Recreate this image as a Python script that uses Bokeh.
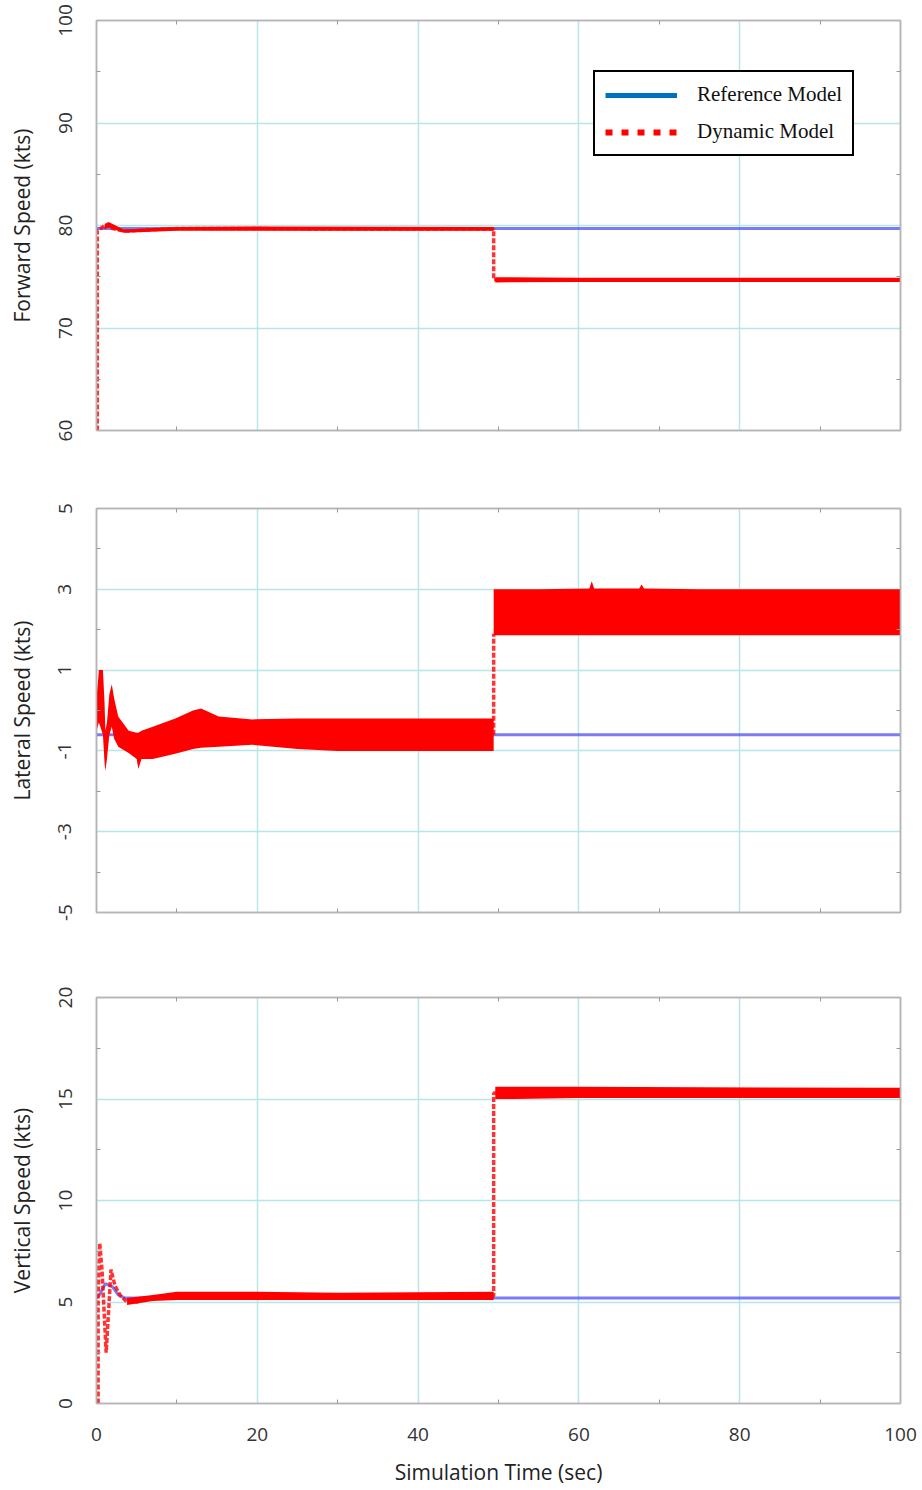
from bokeh.plotting import figure
from bokeh.layouts import column
from bokeh.models import (Range1d, FixedTicker, Legend, LegendItem, LinearAxis,
                          CustomJSTickFormatter)
from bokeh.embed import file_html
from bokeh.resources import INLINE

# ---------------- data ----------------
X_TICKS = [0, 20, 40, 60, 80, 100]
X_MINOR = [10, 30, 50, 70, 90]

# Forward speed
FWD_REF_T = [0, 100]
FWD_REF = [79.7, 79.7]
FWD_DYN_T = [0.1, 0.1, 0.5, 1.0, 1.4, 2.0, 3.4, 5.0, 7.0, 10.0, 20.0, 30.0, 40.0,
             49.4, 49.4, 50.0, 60.0, 70.0, 80.0, 90.0, 100.0]
FWD_DYN = [60.0, 79.5, 79.7, 80.0, 80.1, 79.7, 79.45, 79.5, 79.6, 79.7, 79.7, 79.65, 79.65,
           79.65, 74.7, 74.7, 74.7, 74.7, 74.7, 74.7, 74.7]
# noise envelope of the dynamic model in its steady parts
FWD_NOISE1_T = [1.0, 1.5, 3.4, 10.0, 20.0, 49.4]
FWD_NOISE1_LO = [79.6, 79.8, 79.3, 79.5, 79.5, 79.5]
FWD_NOISE1_HI = [80.1, 80.35, 79.6, 79.85, 79.9, 79.85]
FWD_NOISE2_T = [49.6, 60.0, 100.0]
FWD_NOISE2_LO = [74.45, 74.5, 74.5]
FWD_NOISE2_HI = [74.95, 74.9, 74.9]
FWD_TICKS = [60, 70, 80, 90, 100]
FWD_MINOR = [65, 75, 85, 95]

# Lateral speed (dense oscillation -> envelope)
LAT_REF_T = [0, 100]
LAT_REF = [-0.6, -0.6]
LAT_BAND1_T = [0.0, 0.3, 0.8, 1.0, 1.1, 1.3, 1.6, 1.9, 2.2, 2.7, 4.0, 5.0, 5.2, 5.6, 7.0,
               9.8, 12.0, 13.0, 15.2, 19.4, 25.0, 30.0, 35.0, 40.0, 45.0, 49.4]
LAT_BAND1_HI = [0.3, 1.0, 1.0, 0.2, -0.5, -0.3, 0.4, 0.65, 0.3, -0.15, -0.5, -0.55, -0.55,
                -0.5, -0.4, -0.2, 0.0, 0.05, -0.15, -0.22, -0.2, -0.2, -0.2, -0.2, -0.2, -0.2]
LAT_BAND1_LO = [-0.5, -0.3, -0.6, -1.3, -1.5, -1.2, -0.6, -0.4, -0.7, -0.9, -1.05, -1.2,
                -1.45, -1.2, -1.2, -1.07, -0.95, -0.92, -0.9, -0.85, -0.95, -1.0, -1.0,
                -1.0, -1.0, -1.0]
LAT_BAND2_T = [49.4, 55.0, 61.3, 61.6, 61.9, 67.5, 67.8, 68.1, 75.0, 85.0, 95.0, 100.0]
LAT_BAND2_HI = [3.0, 3.0, 3.02, 3.2, 3.02, 3.02, 3.12, 3.02, 3.0, 3.0, 3.0, 3.0]
LAT_BAND2_LO = [1.86, 1.86, 1.86, 1.86, 1.86, 1.86, 1.86, 1.86, 1.86, 1.86, 1.86, 1.86]
LAT_STEP_T = [49.4, 49.4]
LAT_STEP = [-0.6, 1.9]
LAT_TICKS = [-5, -3, -1, 1, 3, 5]
LAT_MINOR = [-4, -2, 0, 2, 4]
LAT_LABELS = {-5: "-5", -3: "-3", -1: "-1", 1: "1", 3: "3", 5: "5"}

# Vertical speed
VRT_REF_T = [0, 0.3, 1.1, 2.0, 2.7, 3.5, 5.0, 100.0]
VRT_REF = [5.2, 5.3, 5.9, 5.75, 5.35, 5.2, 5.2, 5.2]
VRT_DYN_T = [0.2, 0.2, 0.4, 0.7, 1.2, 1.5, 1.8, 2.3, 3.0, 3.8, 5.0, 7.0, 10.0, 15.0, 20.0,
             30.0, 40.0, 49.4, 49.4, 50.0, 60.0, 70.0, 80.0, 90.0, 100.0]
VRT_DYN = [0.0, 5.3, 7.9, 6.5, 2.5, 4.5, 6.6, 5.8, 5.3, 5.0, 5.0, 5.2, 5.3, 5.3, 5.3,
           5.3, 5.3, 5.3, 15.3, 15.3, 15.35, 15.3, 15.3, 15.3, 15.3]
VRT_NOISE1_T = [3.8, 7.0, 10.0, 20.0, 30.0, 49.4]
VRT_NOISE1_LO = [4.85, 5.05, 5.1, 5.1, 5.1, 5.1]
VRT_NOISE1_HI = [5.2, 5.35, 5.5, 5.5, 5.45, 5.5]
VRT_NOISE2_T = [49.6, 52.0, 60.0, 100.0]
VRT_NOISE2_LO = [15.0, 15.0, 15.05, 15.05]
VRT_NOISE2_HI = [15.6, 15.6, 15.6, 15.55]
VRT_TICKS = [0, 5, 10, 15, 20]
VRT_MINOR = [2.5, 7.5, 12.5, 17.5]

# ---------------- style ----------------
FONT = "Open Sans"
GRID = "#b8e6e6"
FRAME = "#b5b5b5"
BLUE = "#5a5af0"
RED = "#ff0000"


def style_axis(ax, ticks, minor, show_labels, standoff=22):
    ax.ticker = FixedTicker(ticks=ticks, minor_ticks=minor)
    ax.axis_line_color = FRAME
    ax.axis_line_width = 1.5
    ax.major_tick_in = 0
    ax.major_tick_out = 0
    ax.minor_tick_in = 4
    ax.minor_tick_out = 0
    ax.minor_tick_line_color = "#999999"
    if show_labels:
        ax.major_label_text_font = FONT
        ax.major_label_text_font_size = "19px"
        ax.major_label_text_color = "#333333"
        ax.major_label_standoff = standoff
    else:
        ax.formatter = CustomJSTickFormatter(code="return ''")
        ax.major_label_standoff = 0


def make_fig(height, top, bottom, ylo, yhi, yticks, yminor, ylabel, show_x):
    p = figure(width=922, height=height, x_range=Range1d(0, 100),
               y_range=Range1d(ylo, yhi), output_backend="svg",
               toolbar_location=None, min_border_left=96, min_border_right=22,
               min_border_top=top, min_border_bottom=bottom)
    p.outline_line_color = FRAME
    p.outline_line_width = 1.5
    style_axis(p.xaxis[0], X_TICKS, X_MINOR, show_x, standoff=24)
    style_axis(p.yaxis[0], yticks, yminor, True, standoff=25)
    p.yaxis.major_label_orientation = "vertical"
    p.yaxis.axis_label = ylabel
    p.yaxis.axis_label_text_font = FONT
    p.yaxis.axis_label_text_font_size = "21px"
    p.yaxis.axis_label_text_font_style = "normal"
    p.yaxis.axis_label_text_color = "#222222"
    p.yaxis.axis_label_standoff = 20
    if show_x:
        p.xaxis.axis_label = "Simulation Time (sec)"
        p.xaxis.axis_label_text_font = FONT
        p.xaxis.axis_label_text_font_size = "21px"
        p.xaxis.axis_label_text_font_style = "normal"
        p.xaxis.axis_label_text_color = "#222222"
        p.xaxis.axis_label_standoff = 14
    ax_top = LinearAxis()
    style_axis(ax_top, X_TICKS, X_MINOR, False)
    p.add_layout(ax_top, "above")
    ax_right = LinearAxis()
    style_axis(ax_right, yticks, yminor, False)
    p.add_layout(ax_right, "right")
    p.xgrid.ticker = FixedTicker(ticks=X_TICKS)
    p.ygrid.ticker = FixedTicker(ticks=yticks)
    p.grid.grid_line_color = GRID
    p.grid.grid_line_width = 1.5
    return p


def red_line(p, x, y, width=3.5):
    p.line(x, y, line_color=RED, line_width=width, line_dash="5 2", line_alpha=0.8)


NAN = float("nan")

# ---- top ----
p1 = make_fig(469, 20, 39, 60, 100, FWD_TICKS, FWD_MINOR, "Forward Speed (kts)", False)
p1.line(FWD_REF_T, FWD_REF, line_color=BLUE, line_width=3, line_alpha=0.8)
p1.varea(x=FWD_NOISE1_T, y1=FWD_NOISE1_LO, y2=FWD_NOISE1_HI, fill_color=RED)
p1.varea(x=FWD_NOISE2_T, y1=FWD_NOISE2_LO, y2=FWD_NOISE2_HI, fill_color=RED)
red_line(p1, FWD_DYN_T, FWD_DYN)

leg_ref = p1.line(x=[NAN], y=[NAN], line_color="#0070C0", line_width=5)
leg_dyn = p1.line(x=[NAN], y=[NAN], line_color=RED, line_width=6, line_dash="7 9")
legend = Legend(items=[LegendItem(label="Reference Model", renderers=[leg_ref]),
                       LegendItem(label="Dynamic Model", renderers=[leg_dyn])],
                location=(497, 274), label_text_font="Liberation Serif",
                label_text_font_size="21px", label_text_color="#111111",
                label_height=18, glyph_width=72, glyph_height=18,
                label_standoff=20, spacing=12, padding=10, margin=0,
                border_line_color="black", border_line_width=2,
                border_line_alpha=1.0,
                background_fill_color="white", background_fill_alpha=1.0)
p1.add_layout(legend)

# ---- middle ----
p2 = make_fig(485, 39, 42, -5, 5, LAT_TICKS, LAT_MINOR, "Lateral Speed (kts)", False)
p2.yaxis[0].major_label_overrides = LAT_LABELS
p2.line(LAT_REF_T, LAT_REF, line_color=BLUE, line_width=3, line_alpha=0.8)
p2.varea(x=LAT_BAND1_T, y1=LAT_BAND1_LO, y2=LAT_BAND1_HI, fill_color=RED)
p2.varea(x=LAT_BAND2_T, y1=LAT_BAND2_LO, y2=LAT_BAND2_HI, fill_color=RED)
red_line(p2, LAT_STEP_T, LAT_STEP)

# ---- bottom ----
p3 = make_fig(536, 43, 87, 0, 20, VRT_TICKS, VRT_MINOR, "Vertical Speed (kts)", True)
p3.line(VRT_REF_T, VRT_REF, line_color=BLUE, line_width=3, line_alpha=0.8)
p3.varea(x=VRT_NOISE1_T, y1=VRT_NOISE1_LO, y2=VRT_NOISE1_HI, fill_color=RED)
p3.varea(x=VRT_NOISE2_T, y1=VRT_NOISE2_LO, y2=VRT_NOISE2_HI, fill_color=RED)
red_line(p3, VRT_DYN_T, VRT_DYN)

layout = column(p1, p2, p3, spacing=0)
open("out.html", "w").write(file_html(layout, INLINE))
